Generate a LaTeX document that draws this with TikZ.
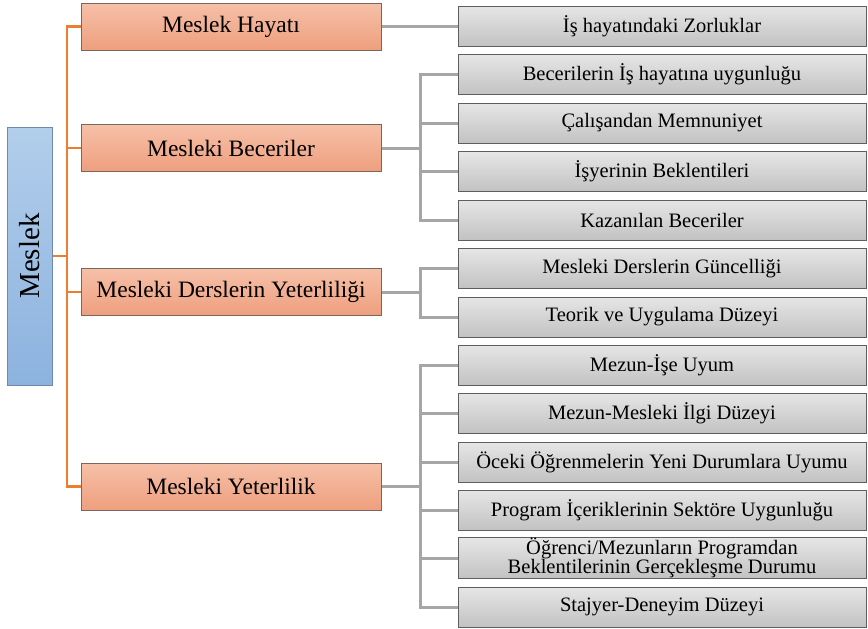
\documentclass[tikz,border=0pt]{standalone}
\usepackage{fontspec}
\setmainfont{Liberation Serif}
\usetikzlibrary{shadings}
\definecolor{oline}{HTML}{ED7D31}
\definecolor{otop}{HTML}{F6C0A8}
\definecolor{obot}{HTML}{EE9F7E}
\definecolor{oborder}{HTML}{7A665C}
\definecolor{gtop}{HTML}{E6E6E6}
\definecolor{gbot}{HTML}{C2C2C2}
\definecolor{gborder}{HTML}{5E5E5E}
\definecolor{gline}{HTML}{A6A6A6}
\definecolor{btop}{HTML}{B2CEEB}
\definecolor{bbot}{HTML}{8CB2DF}
\definecolor{bborder}{HTML}{6E8AA8}
\tikzset{
  rootbox/.style={draw=bborder, line width=1pt, top color=btop, bottom color=bbot,
    minimum width=45pt, minimum height=258pt, inner sep=0pt, font=\fontsize{29}{32}\selectfont},
  obox/.style={draw=oborder, line width=1pt, top color=otop, bottom color=obot,
    minimum width=300pt, minimum height=47pt, inner sep=0pt, font=\fontsize{23.5}{26}\selectfont},
  gbox/.style={draw=gborder, line width=1pt, top color=gtop, bottom color=gbot,
    minimum width=408pt, minimum height=40pt, inner sep=0pt, align=center,
    font=\fontsize{20.5}{20.5}\selectfont},
  olink/.style={draw=oline, line width=2.5pt},
  glink/.style={draw=gline, line width=3pt},
}
\begin{document}
\begin{tikzpicture}[x=1pt,y=-1pt]
\useasboundingbox (0,0) rectangle (868,629);
\coordinate (tx) at (67,0);
\coordinate (gx) at (420,0);
\node[rootbox] (root) at (29.5,256) {\rotatebox{90}{Meslek}};
\node[obox] (o1) at (231,26.5) {Meslek Hayatı};
\node[obox] (o2) at (231,148) {Mesleki Beceriler};
\node[obox] (o3) at (231,292) {Mesleki Derslerin Yeterliliği};
\node[obox] (o4) at (231,486.5) {Mesleki Yeterlilik};
\node[gbox] (g0) at (662,26) {İş hayatındaki Zorluklar};
\node[gbox] (g1) at (662,74.5) {Becerilerin İş hayatına uygunluğu};
\node[gbox] (g2) at (662,123) {Çalışandan Memnuniyet};
\node[gbox] (g3) at (662,171.5) {İşyerinin Beklentileri};
\node[gbox] (g4) at (662,220) {Kazanılan Beceriler};
\node[gbox] (g5) at (662,268.5) {Mesleki Derslerin Güncelliği};
\node[gbox] (g6) at (662,317) {Teorik ve Uygulama Düzeyi};
\node[gbox] (g7) at (662,365) {Mezun-İşe Uyum};
\node[gbox] (g8) at (662,413) {Mezun-Mesleki İlgi Düzeyi};
\node[gbox] (g9) at (662,462) {Öceki Öğrenmelerin Yeni Durumlara Uyumu};
\node[gbox] (g10) at (662,510) {Program İçeriklerinin Sektöre Uygunluğu};
\node[gbox] (g11) at (662,558) {Öğrenci/Mezunların Programdan\\[-1pt]Beklentilerinin Gerçekleşme Durumu};
\node[gbox] (g12) at (662,607) {Stajyer-Deneyim Düzeyi};
% orange trunk
\draw[olink] (o1.west) -- (o1.west -| tx) -- (o4.west -| tx) -- (o4.west);
\draw[olink] (root.east) -- (root.east -| tx);
\draw[olink] (o2.west) -- (o2.west -| tx);
\draw[olink] (o3.west) -- (o3.west -| tx);
% gray links
\draw[glink] (o1.east) -- (o1.east -| g0.west);
\draw[glink] (o2.east) -- (o2.east -| gx);
\draw[glink] (g1.west) -- (g1.west -| gx) -- (g4.west -| gx) -- (g4.west);
\draw[glink] (g2.west) -- (g2.west -| gx);
\draw[glink] (g3.west) -- (g3.west -| gx);
\draw[glink] (o3.east) -- (o3.east -| gx);
\draw[glink] (g5.west) -- (g5.west -| gx) -- (g6.west -| gx) -- (g6.west);
\draw[glink] (o4.east) -- (o4.east -| gx);
\draw[glink] (g7.west) -- (g7.west -| gx) -- (g12.west -| gx) -- (g12.west);
\draw[glink] (g8.west) -- (g8.west -| gx);
\draw[glink] (g9.west) -- (g9.west -| gx);
\draw[glink] (g10.west) -- (g10.west -| gx);
\draw[glink] (g11.west) -- (g11.west -| gx);
\end{tikzpicture}
\end{document}
